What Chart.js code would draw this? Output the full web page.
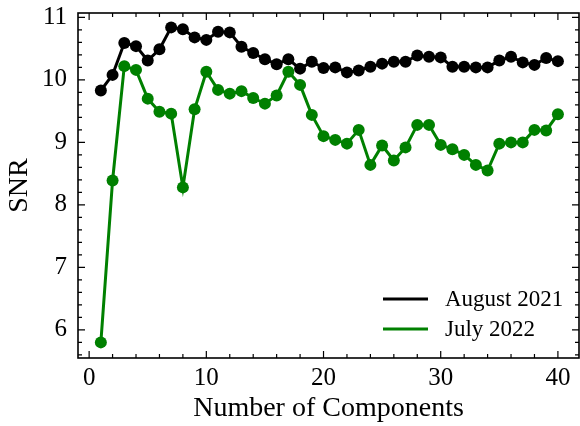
<!DOCTYPE html>
<html>
<head>
<meta charset="utf-8">
<script src="https://cdn.jsdelivr.net/npm/chart.js@4/dist/chart.umd.min.js"></script>
<style>
  html, body { margin: 0; padding: 0; background: #fff; }
  #wrap { width: 580px; height: 426px; }
</style>
</head>
<body>
<div id="wrap"><canvas id="chartSnr" width="580" height="426"></canvas></div>
<script>
const components = [];
for (let i = 1; i <= 40; i++) components.push(i);

const august2021 = [9.83, 10.08, 10.59, 10.54, 10.31, 10.49, 10.84, 10.81, 10.68, 10.64,
  10.77, 10.76, 10.53, 10.43, 10.33, 10.25, 10.33, 10.18, 10.29, 10.19,
  10.20, 10.12, 10.15, 10.21, 10.26, 10.29, 10.29, 10.39, 10.37, 10.36,
  10.21, 10.21, 10.20, 10.20, 10.31, 10.37, 10.28, 10.24, 10.35, 10.30];

const july2022 = [5.80, 8.39, 10.22, 10.16, 9.70, 9.49, 9.46, 8.28, 9.53, 10.13,
  9.84, 9.78, 9.82, 9.71, 9.62, 9.75, 10.13, 9.92, 9.44, 9.10,
  9.04, 8.98, 9.20, 8.64, 8.95, 8.71, 8.92, 9.28, 9.28, 8.96,
  8.89, 8.80, 8.64, 8.55, 8.98, 9.00, 9.00, 9.20, 9.19, 9.45];

const xTicks = [0, 10, 20, 30, 40];
const yTicks = [6, 7, 8, 9, 10, 11];
const seriesLabels = ["August 2021", "July 2022"];
const seriesColors = ["#000000", "#008000"];

const FONT = "'Liberation Serif', 'DejaVu Serif', serif";

function pts(ys) {
  return ys.map((y, i) => ({ x: components[i], y: y }));
}

// frame with inward ticks on all four sides, plus the legend
const framePlugin = {
  id: "frame",
  afterDraw(chart) {
    const ctx = chart.ctx;
    const a = chart.chartArea;
    const xs = chart.scales.x, ys = chart.scales.y;
    ctx.save();
    ctx.strokeStyle = "#000";
    ctx.lineWidth = 1.6;
    ctx.strokeRect(a.left, a.top, a.right - a.left, a.bottom - a.top);
    ctx.lineWidth = 1.2;
    ctx.beginPath();
    for (let v = 0; v <= 41; v += 2) {
      const px = xs.getPixelForValue(v);
      const len = v % 10 === 0 ? 7 : 4;
      ctx.moveTo(px, a.bottom); ctx.lineTo(px, a.bottom - len);
      ctx.moveTo(px, a.top); ctx.lineTo(px, a.top + len);
    }
    for (let k = 28; k <= 55; k++) {
      const v = k / 5;
      const py = ys.getPixelForValue(v);
      if (py < a.top || py > a.bottom) continue;
      const len = k % 5 === 0 ? 7 : 4;
      ctx.moveTo(a.left, py); ctx.lineTo(a.left + len, py);
      ctx.moveTo(a.right, py); ctx.lineTo(a.right - len, py);
    }
    ctx.stroke();

    // legend, lower right
    ctx.font = "23px " + FONT;
    ctx.textBaseline = "middle";
    ctx.textAlign = "left";
    seriesLabels.forEach((lab, i) => {
      const y = 299 + i * 30;
      ctx.strokeStyle = seriesColors[i];
      ctx.lineWidth = 3.2;
      ctx.beginPath();
      ctx.moveTo(383, y); ctx.lineTo(428, y);
      ctx.stroke();
      ctx.fillStyle = "#000";
      ctx.fillText(lab, 445, y + 1);
    });
    ctx.restore();
  }
};

const datasets = [august2021, july2022].map((d, i) => ({
  label: seriesLabels[i],
  data: pts(d),
  borderColor: seriesColors[i],
  backgroundColor: seriesColors[i],
  borderWidth: 3,
  pointRadius: 6,
  pointHoverRadius: 6,
  pointBorderWidth: 0,
  tension: 0
}));

new Chart(document.getElementById("chartSnr"), {
  type: "line",
  data: { datasets: datasets },
  options: {
    responsive: false,
    animation: false,
    layout: { autoPadding: false, padding: { top: 13, right: 1, left: 0, bottom: 0 } },
    plugins: { legend: { display: false }, tooltip: { enabled: false } },
    scales: {
      x: {
        type: "linear",
        min: -0.95,
        max: 41.8,
        afterBuildTicks: s => { s.ticks = xTicks.map(v => ({ value: v })); },
        afterFit: s => { s.height = 68; s.paddingLeft = 0; s.paddingRight = 0; },
        grid: { display: false, drawTicks: false },
        border: { display: false },
        ticks: { color: "#000", padding: 5, maxRotation: 0, font: { family: FONT, size: 25 } },
        title: { display: true, text: "Number of Components", color: "#000", padding: 1, font: { family: FONT, size: 28 } }
      },
      y: {
        min: 5.55,
        max: 11.07,
        afterBuildTicks: s => { s.ticks = yTicks.map(v => ({ value: v })); },
        afterFit: s => { s.width = 78; s.paddingTop = 0; s.paddingBottom = 0; },
        grid: { display: false, drawTicks: false },
        border: { display: false },
        ticks: { color: "#000", padding: 11, font: { family: FONT, size: 25 } },
        title: { display: true, text: "SNR", color: "#000", padding: 3, font: { family: FONT, size: 28 } }
      }
    }
  },
  plugins: [framePlugin]
});
</script>
</body>
</html>
